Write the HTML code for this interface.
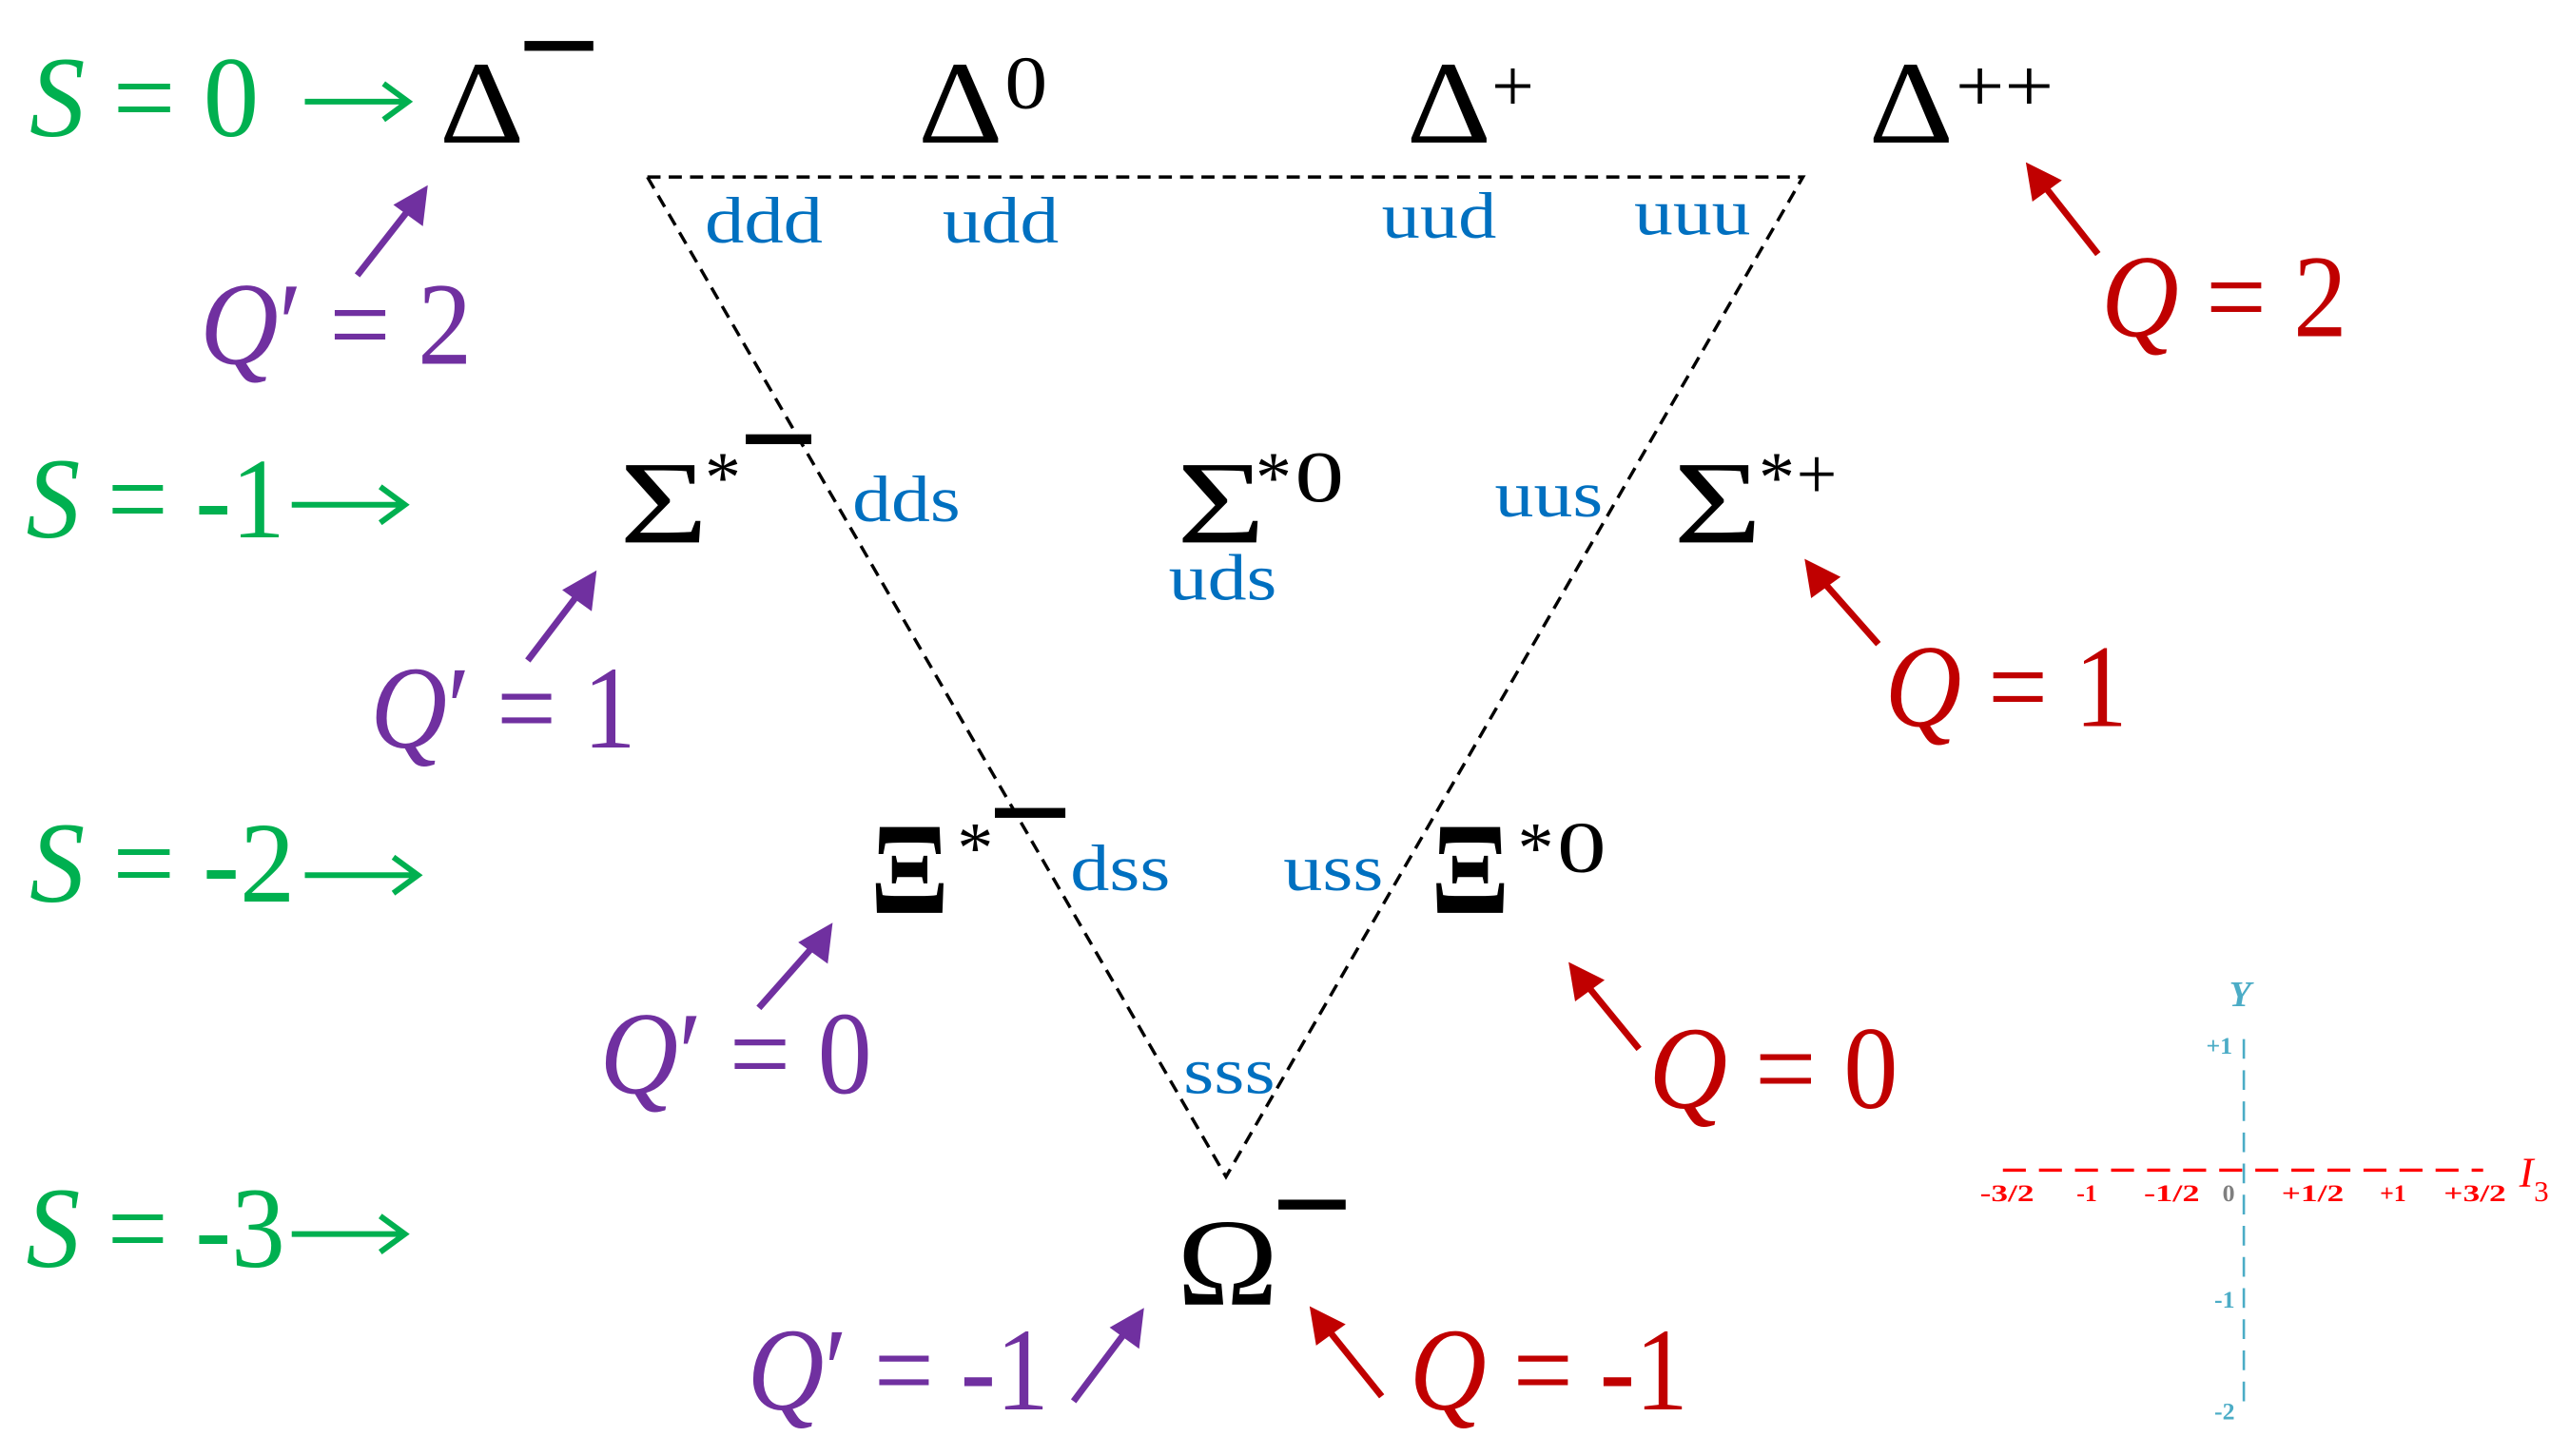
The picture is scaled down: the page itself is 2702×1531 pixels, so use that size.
<!DOCTYPE html>
<html><head><meta charset="utf-8"><style>
html,body{margin:0;padding:0;background:#fff;}
svg{display:block;}
text{font-family:"Liberation Serif",serif;}
.g{fill:#00b050;}
.p{fill:#7030a0;}
.r{fill:#c00000;}
.b{fill:#0070c0;font-size:40px;}
.k{fill:#000;}
.ax{font-family:"Liberation Sans",sans-serif;font-weight:bold;font-size:15px;}
</style></head><body>
<svg width="2702" height="1531" viewBox="0 0 1568 888.4" preserveAspectRatio="none" xmlns="http://www.w3.org/2000/svg">
<path d="M395,108 L1100,108 L748,718 Z" fill="none" stroke="#000" stroke-width="2" stroke-dasharray="8,5"/>

<g font-size="70">
<text class="g" x="18" y="83" textLength="140" lengthAdjust="spacingAndGlyphs"><tspan font-style="italic">S</tspan> = 0</text>
<text class="g" x="16" y="328" textLength="158" lengthAdjust="spacingAndGlyphs"><tspan font-style="italic">S</tspan> = -1</text>
<text class="g" x="18" y="550" textLength="162" lengthAdjust="spacingAndGlyphs"><tspan font-style="italic">S</tspan> = -2</text>
<text class="g" x="16" y="773" textLength="158" lengthAdjust="spacingAndGlyphs"><tspan font-style="italic">S</tspan> = -3</text>
</g>
<g stroke="#00b050" stroke-width="3.5" fill="none">
<path d="M186,62 H248 M234,51 L249,62 L234,73"/>
<path d="M178,308 H246 M232,297 L247,308 L232,319"/>
<path d="M186,534 H254 M240,523 L255,534 L240,545"/>
<path d="M178,753 H246 M232,742 L247,753 L232,764"/>
</g>

<g class="k" font-size="72">
<text x="268" y="87" textLength="52" lengthAdjust="spacingAndGlyphs">Δ</text>
<text x="560" y="87" textLength="52" lengthAdjust="spacingAndGlyphs">Δ</text>
<text x="858" y="87" textLength="52" lengthAdjust="spacingAndGlyphs">Δ</text>
<text x="1140" y="87" textLength="52" lengthAdjust="spacingAndGlyphs">Δ</text>
</g>
<rect x="320" y="25" width="42" height="6" fill="#000"/>
<g class="k" font-size="46">
<text x="613" y="66" textLength="26" lengthAdjust="spacingAndGlyphs">0</text>
<text x="910" y="68">+</text>
<text x="1193" y="68" textLength="60" lengthAdjust="spacingAndGlyphs">++</text>
</g>

<text class="b" x="430" y="148" textLength="72" lengthAdjust="spacingAndGlyphs">ddd</text>
<text class="b" x="575" y="148" textLength="71" lengthAdjust="spacingAndGlyphs">udd</text>
<text class="b" x="843" y="145" textLength="70" lengthAdjust="spacingAndGlyphs">uud</text>
<text class="b" x="997" y="143" textLength="71" lengthAdjust="spacingAndGlyphs">uuu</text>
<text class="b" x="520" y="318" textLength="66" lengthAdjust="spacingAndGlyphs">dds</text>
<text class="b" x="713" y="366" textLength="66" lengthAdjust="spacingAndGlyphs">uds</text>
<text class="b" x="912" y="315" textLength="66" lengthAdjust="spacingAndGlyphs">uus</text>
<text class="b" x="653" y="543" textLength="61" lengthAdjust="spacingAndGlyphs">dss</text>
<text class="b" x="783" y="543" textLength="61" lengthAdjust="spacingAndGlyphs">uss</text>
<text class="b" x="722" y="667" textLength="56" lengthAdjust="spacingAndGlyphs">sss</text>

<g class="k" font-size="72">
<text x="378" y="331" textLength="54" lengthAdjust="spacingAndGlyphs">Σ</text>
<text x="718" y="331" textLength="54" lengthAdjust="spacingAndGlyphs">Σ</text>
<text x="1021" y="331" textLength="54" lengthAdjust="spacingAndGlyphs">Σ</text>
</g>
<g class="k" font-size="44">
<text x="430" y="306">*</text>
<text x="766" y="306">*</text>
<text x="790" y="306" textLength="30" lengthAdjust="spacingAndGlyphs">0</text>
<text x="1073" y="306">*</text>
<text x="1096" y="304">+</text>
</g>
<rect x="455" y="265" width="40" height="6" fill="#000"/>

<g class="k" font-size="80" font-weight="bold">
<text x="531" y="557" textLength="48" lengthAdjust="spacingAndGlyphs">Ξ</text>
<text x="873" y="557" textLength="48" lengthAdjust="spacingAndGlyphs">Ξ</text>
</g>
<g class="k" font-size="44">
<text x="584" y="532">*</text>
<text x="926" y="532">*</text>
<text x="950" y="532" textLength="30" lengthAdjust="spacingAndGlyphs">0</text>
</g>
<rect x="607" y="493" width="43" height="6" fill="#000"/>

<text class="k" x="718" y="796" font-size="76" textLength="62" lengthAdjust="spacingAndGlyphs">Ω</text>
<rect x="780" y="732" width="41" height="6" fill="#000"/>

<g font-size="72">
<text class="p" x="122" y="222" textLength="166" lengthAdjust="spacingAndGlyphs"><tspan font-style="italic">Q</tspan>′ = 2</text>
<text class="p" x="226" y="456" textLength="162" lengthAdjust="spacingAndGlyphs"><tspan font-style="italic">Q</tspan>′ = 1</text>
<text class="p" x="366" y="667" textLength="166" lengthAdjust="spacingAndGlyphs"><tspan font-style="italic">Q</tspan>′ = 0</text>
<text class="p" x="456" y="860" textLength="184" lengthAdjust="spacingAndGlyphs"><tspan font-style="italic">Q</tspan>′ = -1</text>
</g>
<g stroke="#7030a0" stroke-width="4">
<line x1="218" y1="168" x2="254" y2="122"/>
<line x1="322" y1="403" x2="357" y2="357"/>
<line x1="463" y1="615" x2="501" y2="572"/>
<line x1="655" y1="855" x2="691" y2="807"/>
</g>
<g fill="#7030a0">
<path d="M261,113 L258,138 L240,125 Z"/>
<path d="M364,348 L361,373 L343,360 Z"/>
<path d="M508,563 L505,588 L487,575 Z"/>
<path d="M698,798 L695,823 L677,810 Z"/>
</g>

<g font-size="72">
<text class="r" x="1282" y="205" textLength="150" lengthAdjust="spacingAndGlyphs"><tspan font-style="italic">Q</tspan> = 2</text>
<text class="r" x="1150" y="443" textLength="148" lengthAdjust="spacingAndGlyphs"><tspan font-style="italic">Q</tspan> = 1</text>
<text class="r" x="1006" y="676" textLength="152" lengthAdjust="spacingAndGlyphs"><tspan font-style="italic">Q</tspan> = 0</text>
<text class="r" x="860" y="860" textLength="170" lengthAdjust="spacingAndGlyphs"><tspan font-style="italic">Q</tspan> = -1</text>
</g>
<g stroke="#c00000" stroke-width="4">
<line x1="1280" y1="155" x2="1243" y2="108"/>
<line x1="1146" y1="393" x2="1108" y2="350"/>
<line x1="1000" y1="640" x2="964" y2="596"/>
<line x1="843" y1="852" x2="806" y2="806"/>
</g>
<g fill="#c00000">
<path d="M1236,99 L1258,110 L1240,123 Z"/>
<path d="M1101,341 L1123,352 L1105,365 Z"/>
<path d="M957,587 L979,598 L961,611 Z"/>
<path d="M799,797 L821,808 L803,821 Z"/>
</g>

<line x1="1369" y1="634" x2="1369" y2="862" stroke="#4bacc6" stroke-width="1.5" stroke-dasharray="12,7"/>
<line x1="1222" y1="714" x2="1515" y2="714" stroke="#ff0000" stroke-width="2" stroke-dasharray="14,8"/>
<text x="1360" y="614" font-size="22" fill="#4bacc6" font-style="italic" font-weight="bold">Y</text>
<g class="ax" fill="#4bacc6">
<text x="1346" y="643">+1</text>
<text x="1351" y="798">-1</text>
<text x="1351" y="866">-2</text>
</g>
<g class="ax" fill="#ff0000">
<text x="1208" y="733" textLength="33" lengthAdjust="spacingAndGlyphs">-3/2</text>
<text x="1267" y="733">-1</text>
<text x="1308" y="733" textLength="34" lengthAdjust="spacingAndGlyphs">-1/2</text>
<text x="1356" y="733" fill="#7f7f7f">0</text>
<text x="1392" y="733" textLength="38" lengthAdjust="spacingAndGlyphs">+1/2</text>
<text x="1452" y="733">+1</text>
<text x="1491" y="733" textLength="38" lengthAdjust="spacingAndGlyphs">+3/2</text>
</g>
<text x="1537" y="724" font-size="26" fill="#ff0000" font-style="italic">I</text>
<text x="1546" y="733" font-size="18" fill="#ff0000">3</text>
</svg>
</body></html>
